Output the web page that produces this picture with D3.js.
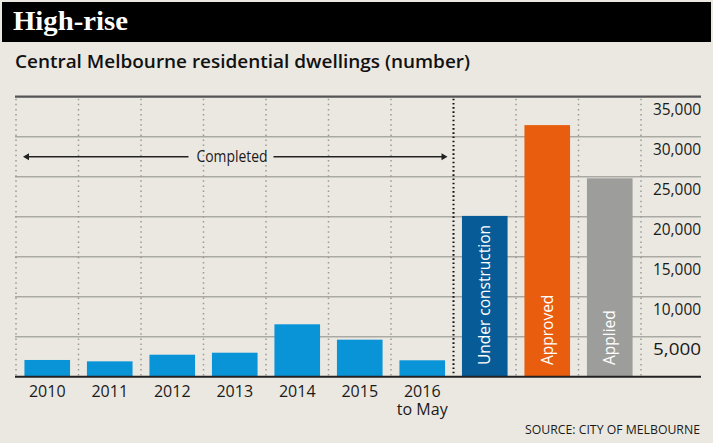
<!DOCTYPE html>
<html>
<head>
    <meta charset="utf-8">
    <title>High-rise</title>
    <script src="https://d3js.org/d3.v7.min.js"></script>
    <style>
        html, body { margin: 0; padding: 0; background: #ebe8e1; }
        svg { display: block; }
        .sans { font-family: "Open Sans", "Noto Sans", sans-serif; }
    </style>
</head>
<body>
    <svg id="chart" width="713" height="443"></svg>

    <script>
        // Chart data
        const categories = ["2010", "2011", "2012", "2013", "2014", "2015", "2016 to May",
                            "Under construction", "Approved", "Applied"];
        const values = [2090, 1920, 2750, 3000, 6550, 4630, 2050, 20100, 31450, 24800];
        const barColors = ["#0a94d8", "#0a94d8", "#0a94d8", "#0a94d8", "#0a94d8", "#0a94d8", "#0a94d8",
                           "#075b97", "#e95e0e", "#9d9d9b"];
        const axisLabels = [["2010"], ["2011"], ["2012"], ["2013"], ["2014"], ["2015"], ["2016", "to May"],
                            [], [], []];
        const yTicks = [5000, 10000, 15000, 20000, 25000, 30000, 35000];

        const svg = d3.select("#chart");
        const width = +svg.attr("width");
        const height = +svg.attr("height");

        svg.append("rect")
            .attr("width", width)
            .attr("height", height)
            .attr("fill", "#ebe8e1");

        // Header band
        svg.append("rect")
            .attr("x", 2).attr("y", 2)
            .attr("width", width - 4).attr("height", 40)
            .attr("fill", "#000");

        svg.append("text")
            .attr("x", 13).attr("y", 30)
            .attr("fill", "#fff")
            .style("font-family", "'Liberation Serif', 'DejaVu Serif', serif")
            .style("font-weight", "bold")
            .style("font-size", "28px")
            .attr("textLength", 115)
            .attr("lengthAdjust", "spacingAndGlyphs")
            .text("High-rise");

        svg.append("text")
            .attr("class", "sans")
            .attr("x", 15).attr("y", 68)
            .attr("fill", "#111")
            .style("font-size", "18.5px")
            .style("font-weight", "600")
            .attr("textLength", 455)
            .attr("lengthAdjust", "spacingAndGlyphs")
            .text("Central Melbourne residential dwellings (number)");

        // Scales
        const left = 15, right = 701;
        const x = d3.scaleBand()
            .domain(categories)
            .range([16, 641])
            .paddingInner(0.27)
            .paddingOuter(0.135);

        const y = d3.scaleLinear()
            .domain([0, 35000])
            .range([376.7, 96.7]);

        // Horizontal gridlines
        svg.append("g")
            .selectAll("line")
            .data(yTicks)
            .enter().append("line")
            .attr("x1", left).attr("x2", right)
            .attr("y1", d => y(d)).attr("y2", d => y(d))
            .attr("stroke", d => d === 35000 ? "#555" : "#aaa9a4")
            .attr("stroke-width", d => d === 35000 ? 2.2 : 1.4);

        // Vertical dotted separators at band boundaries
        const step = x.step();
        const start = x.range()[0];
        const boundaries = d3.range(categories.length + 1).map(i => start + i * step);

        svg.append("g")
            .selectAll("line")
            .data(boundaries)
            .enter().append("line")
            .attr("x1", d => d).attr("x2", d => d)
            .attr("y1", y(35000) + 2).attr("y2", y(0))
            .attr("stroke", (d, i) => i === 7 ? "#111" : "#999")
            .attr("stroke-width", (d, i) => i === 7 ? 2 : 1.5)
            .attr("stroke-dasharray", (d, i) => i === 7 ? "1.6,2.6" : "1.5,3.6");

        // Bars
        svg.append("g")
            .selectAll("rect")
            .data(categories)
            .enter().append("rect")
            .attr("x", d => x(d))
            .attr("width", x.bandwidth())
            .attr("y", (d, i) => y(values[i]))
            .attr("height", (d, i) => y(0) - y(values[i]))
            .attr("fill", (d, i) => barColors[i]);

        // Baseline
        svg.append("line")
            .attr("x1", left).attr("x2", right)
            .attr("y1", y(0)).attr("y2", y(0))
            .attr("stroke", "#222")
            .attr("stroke-width", 2);

        // Right-hand value labels, sitting just below their gridline
        svg.append("g")
            .selectAll("text")
            .data(yTicks)
            .enter().append("text")
            .attr("class", "sans")
            .attr("x", right)
            .attr("y", d => y(d) + 18.5)
            .attr("text-anchor", "end")
            .attr("fill", "#1a1a1a")
            .style("font-size", "16px")
            .attr("textLength", 48)
            .attr("lengthAdjust", "spacingAndGlyphs")
            .text(d => d3.format(",")(d));

        // Category labels under the completed bars (one text per line)
        const lines = [];
        categories.forEach((c, i) => axisLabels[i].forEach((t, j) => lines.push({ c, t, j })));

        svg.append("g")
            .selectAll("text")
            .data(lines)
            .enter().append("text")
            .attr("class", "sans")
            .attr("x", d => x(d.c) + x.bandwidth() / 2)
            .attr("y", d => 397 + d.j * 18)
            .attr("text-anchor", "middle")
            .attr("fill", "#1a1a1a")
            .style("font-size", "16px")
            .text(d => d.t);

        // Rotated labels inside the pipeline bars
        svg.append("g")
            .selectAll("text")
            .data(categories.slice(7))
            .enter().append("text")
            .attr("class", "sans")
            .attr("transform", d => `translate(${x(d) + x.bandwidth() / 2 + 5.5},365) rotate(-90)`)
            .attr("fill", "#fff")
            .style("font-size", "15.5px")
            .text(d => d);

        // "Completed" arrow annotation
        const arrowY = (y(30000) + y(25000)) / 2;
        const ax1 = boundaries[0] + 7, ax2 = boundaries[7] - 6;
        const label = svg.append("text")
            .attr("class", "sans")
            .attr("x", 232).attr("y", arrowY + 5.5)
            .attr("text-anchor", "middle")
            .attr("fill", "#1a1a1a")
            .style("font-size", "16px")
            .attr("textLength", 71)
            .attr("lengthAdjust", "spacingAndGlyphs")
            .text("Completed");
        const bb = label.node().getBBox();

        const arrow = svg.append("g").attr("stroke", "#222").attr("stroke-width", 1.6);
        arrow.append("line")
            .attr("x1", ax1 + 3).attr("x2", bb.x - 8)
            .attr("y1", arrowY).attr("y2", arrowY);
        arrow.append("line")
            .attr("x1", bb.x + bb.width + 6).attr("x2", ax2 - 3)
            .attr("y1", arrowY).attr("y2", arrowY);

        svg.append("path")
            .attr("d", `M${ax1},${arrowY} l6,-3.5 l0,7 z M${ax2},${arrowY} l-6,-3.5 l0,7 z`)
            .attr("fill", "#222");

        // Source note
        svg.append("text")
            .attr("class", "sans")
            .attr("x", 700).attr("y", 434)
            .attr("text-anchor", "end")
            .attr("fill", "#1a1a1a")
            .style("font-size", "13px")
            .attr("textLength", 175)
            .attr("lengthAdjust", "spacingAndGlyphs")
            .text("SOURCE: CITY OF MELBOURNE");
    </script>
</body>
</html>
